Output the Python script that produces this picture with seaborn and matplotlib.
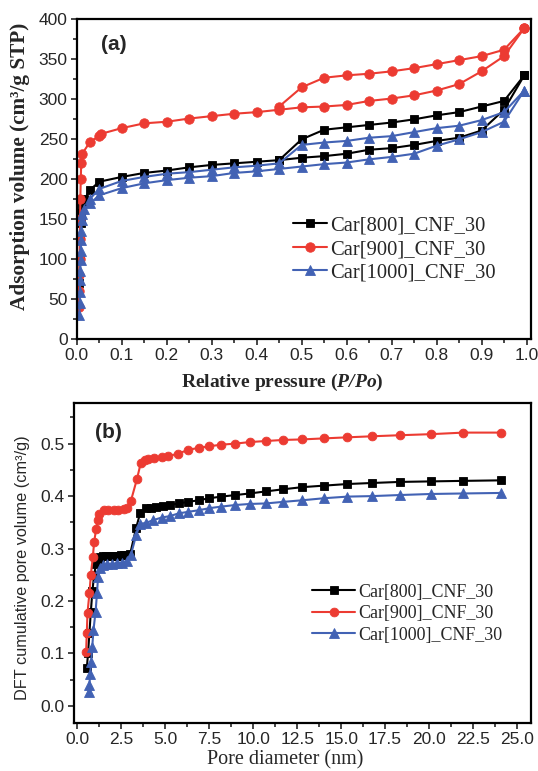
import matplotlib
matplotlib.use('Agg')
import matplotlib.pyplot as plt
from matplotlib.ticker import MultipleLocator, FormatStrFormatter
import seaborn as sns

# ---- (a) N2 isotherms: relative pressure vs adsorbed volume ----
black_ads_p = [0.006, 0.007, 0.008, 0.009, 0.010, 0.012, 0.017, 0.03, 0.05, 0.10, 0.15, 0.20, 0.25, 0.30,
               0.35, 0.40, 0.45, 0.50, 0.55, 0.60, 0.65, 0.70, 0.75, 0.80, 0.85, 0.90, 0.95, 0.995]
black_ads_v = [70, 100, 125, 145, 158, 167, 175, 187, 197, 203, 208, 211, 215, 218,
               220, 222, 224, 227, 229, 232, 237, 239, 243, 248, 252, 261, 287, 330]
black_des_p = [0.995, 0.95, 0.90, 0.85, 0.80, 0.75, 0.70, 0.65, 0.60, 0.55, 0.50, 0.45]
black_des_v = [330, 298, 291, 284, 280, 275, 271, 268, 265, 262, 250, 224]

red_ads_p = [0.005, 0.0055, 0.006, 0.0065, 0.007, 0.0075, 0.008, 0.009, 0.010, 0.012, 0.03, 0.05, 0.055,
             0.10, 0.15, 0.20, 0.25, 0.30, 0.35, 0.40, 0.45, 0.50, 0.55, 0.60, 0.65, 0.70, 0.75, 0.80,
             0.85, 0.90, 0.95, 0.995]
red_ads_v = [40, 60, 80, 100, 125, 150, 175, 200, 220, 232, 247, 254, 257,
             264, 270, 272, 276, 279, 282, 284, 287, 290, 291, 293, 298, 301, 305, 311,
             319, 335, 354, 389]
red_des_p = [0.995, 0.95, 0.90, 0.85, 0.80, 0.75, 0.70, 0.65, 0.60, 0.55, 0.50, 0.45]
red_des_v = [389, 362, 354, 349, 344, 339, 335, 332, 330, 327, 315, 291]

blue_ads_p = [0.0060, 0.0065, 0.0070, 0.0075, 0.0080, 0.0085, 0.0090, 0.0095, 0.010, 0.011, 0.012,
              0.017, 0.03, 0.05, 0.10, 0.15, 0.20, 0.25, 0.30, 0.35, 0.40, 0.45, 0.50, 0.55, 0.60,
              0.65, 0.70, 0.75, 0.80, 0.85, 0.90, 0.95, 0.995]
blue_ads_v = [30, 45, 59, 74, 86, 99, 111, 124, 136, 149, 157,
              163, 170, 180, 189, 195, 199, 202, 204, 208, 210, 213, 216, 219, 221,
              225, 228, 232, 242, 250, 259, 272, 311]
blue_des_p = [0.995, 0.95, 0.90, 0.85, 0.80, 0.75, 0.70, 0.65, 0.60, 0.55, 0.50, 0.45, 0.40, 0.35,
              0.30, 0.25, 0.20, 0.15, 0.10, 0.05, 0.03]
blue_des_v = [311, 284, 274, 267, 264, 259, 254, 252, 248, 246, 243, 220, 217, 215,
              212, 209, 207, 203, 198, 188, 176]

# ---- (b) DFT cumulative pore volume ----
black_d = [0.53, 0.60, 0.68, 0.76, 0.85, 0.95, 1.05, 1.15, 1.30, 1.45, 1.60, 1.75, 1.90, 2.05, 2.20,
           2.35, 2.50, 2.65, 2.80, 3.00, 3.34, 3.57, 3.90, 4.19, 4.48, 4.87, 5.27, 5.75, 6.30, 6.89,
           7.51, 8.19, 8.98, 9.81, 10.73, 11.71, 12.78, 14.05, 15.36, 16.78, 18.34, 20.10, 21.96, 24.10]
black_pv = [0.072, 0.100, 0.140, 0.180, 0.220, 0.250, 0.270, 0.280, 0.284, 0.285, 0.285, 0.285, 0.286,
            0.286, 0.286, 0.286, 0.287, 0.287, 0.288, 0.290, 0.340, 0.368, 0.377, 0.378, 0.380, 0.381,
            0.383, 0.386, 0.389, 0.392, 0.396, 0.399, 0.402, 0.405, 0.409, 0.413, 0.417, 0.420, 0.423,
            0.425, 0.427, 0.428, 0.429, 0.430]
red_d = [0.49, 0.53, 0.57, 0.68, 0.76, 0.87, 0.95, 1.06, 1.14, 1.25, 1.48, 1.76, 2.05, 2.33, 2.62,
         2.81, 3.04, 3.38, 3.60, 3.85, 4.00, 4.35, 4.78, 5.17, 5.72, 6.30, 6.89, 7.51, 8.19, 8.98,
         9.81, 10.73, 11.71, 12.78, 14.05, 15.36, 16.78, 18.34, 20.10, 21.96, 24.10]
red_pv = [0.103, 0.140, 0.178, 0.215, 0.250, 0.283, 0.313, 0.337, 0.354, 0.366, 0.373, 0.374, 0.374,
          0.374, 0.375, 0.377, 0.391, 0.432, 0.463, 0.468, 0.471, 0.472, 0.474, 0.476, 0.481, 0.488,
          0.492, 0.495, 0.498, 0.500, 0.503, 0.505, 0.507, 0.508, 0.510, 0.512, 0.514, 0.516, 0.518,
          0.521, 0.521]
blue_d = [0.63, 0.68, 0.72, 0.78, 0.84, 0.91, 1.03, 1.11, 1.17, 1.29, 1.44, 1.67, 1.96, 2.24, 2.53,
          2.81, 3.04, 3.34, 3.57, 3.90, 4.29, 4.78, 5.27, 5.75, 6.30, 6.89, 7.51, 8.19, 8.98, 9.81,
          10.73, 11.71, 12.78, 14.05, 15.36, 16.78, 18.34, 20.10, 21.96, 24.10]
blue_pv = [0.026, 0.040, 0.061, 0.084, 0.113, 0.145, 0.180, 0.215, 0.246, 0.262, 0.269, 0.270, 0.270,
           0.272, 0.273, 0.277, 0.288, 0.326, 0.347, 0.349, 0.354, 0.359, 0.362, 0.367, 0.370, 0.373,
           0.377, 0.380, 0.383, 0.385, 0.386, 0.389, 0.392, 0.396, 0.399, 0.400, 0.402, 0.404, 0.405,
           0.406]

labels = ['Car[800]_CNF_30', 'Car[900]_CNF_30', 'Car[1000]_CNF_30']
colors = ['#000000', '#EC3B32', '#4262B4']

sns.set_style('ticks')
plt.rcParams['font.family'] = ['Liberation Sans', 'DejaVu Sans']
plt.rcParams['mathtext.fontset'] = 'custom'
plt.rcParams['mathtext.bfit'] = 'Liberation Serif:bold:italic'
plt.rcParams['mathtext.rm'] = 'Liberation Serif:bold'

SERIF = ['Liberation Serif', 'DejaVu Serif']

fig = plt.figure(figsize=(5.38, 7.71), dpi=100)
ax1 = fig.add_axes([0.1426, 0.5599, 0.8444, 0.4150])
ax2 = fig.add_axes([0.1375, 0.0619, 0.8494, 0.4158])


def draw(ax, x, y, c, m, ms, lab=None):
    sns.lineplot(x=x, y=y, ax=ax, color=c, marker=m, markersize=ms, markeredgecolor=c,
                 markeredgewidth=0.6, linewidth=1.5, sort=False, estimator=None,
                 label=lab if lab else '_nolegend_')


# panel (a)
draw(ax1, black_ads_p, black_ads_v, colors[0], 's', 5.5, labels[0])
draw(ax1, black_des_p, black_des_v, colors[0], 's', 5.5)
draw(ax1, red_ads_p, red_ads_v, colors[1], 'o', 6.8, labels[1])
draw(ax1, red_des_p, red_des_v, colors[1], 'o', 6.8)
draw(ax1, blue_ads_p, blue_ads_v, colors[2], '^', 7.0, labels[2])
draw(ax1, blue_des_p, blue_des_v, colors[2], '^', 7.0)

# panel (b)
draw(ax2, black_d, black_pv, colors[0], 's', 5.2, labels[0])
draw(ax2, red_d, red_pv, colors[1], 'o', 6.3, labels[1])
draw(ax2, blue_d, blue_pv, colors[2], '^', 6.5, labels[2])

ax1.set_xlim(0, 1.01)
ax1.set_ylim(0, 400)
ax1.xaxis.set_major_locator(MultipleLocator(0.1))
ax1.xaxis.set_minor_locator(MultipleLocator(0.05))
ax1.xaxis.set_major_formatter(FormatStrFormatter('%.1f'))
ax1.yaxis.set_major_locator(MultipleLocator(50))
ax1.yaxis.set_minor_locator(MultipleLocator(25))

ax2.set_xlim(-0.2, 25.8)
ax2.set_ylim(-0.033, 0.578)
ax2.xaxis.set_major_locator(MultipleLocator(2.5))
ax2.xaxis.set_minor_locator(MultipleLocator(1.25))
ax2.xaxis.set_major_formatter(FormatStrFormatter('%.1f'))
ax2.yaxis.set_major_locator(MultipleLocator(0.1))
ax2.yaxis.set_minor_locator(MultipleLocator(0.05))
ax2.yaxis.set_major_formatter(FormatStrFormatter('%.1f'))

for ax in (ax1, ax2):
    for s in ax.spines.values():
        s.set_linewidth(1.6)
        s.set_color('black')
    ax.tick_params(which='major', direction='out', length=4.5, width=1.2, labelsize=12.5,
                   top=False, right=False, pad=2)
    ax.tick_params(which='minor', direction='out', length=3, width=1.2, top=False, right=False)

ax1.set_xlabel(r'Relative pressure ($\mathbfit{P/Po}$)', fontsize=14, fontweight='bold', family=SERIF)
ax1.set_ylabel('Adsorption volume (cm³/g STP)', fontsize=15.3, fontweight='bold', family=SERIF)
ax1.xaxis.set_label_coords(0.452, -0.102)
ax1.yaxis.set_label_coords(-0.103, 0.542)

ax2.set_xlabel('Pore diameter (nm)', fontsize=14.5, family=SERIF)
ax2.set_ylabel('DFT cumulative pore volume (cm³/g)', fontsize=11.7)
ax2.xaxis.set_label_coords(0.463, -0.083)
ax2.yaxis.set_label_coords(-0.096, 0.484)

ax1.text(0.053, 0.92, '(a)', transform=ax1.transAxes, fontsize=15, fontweight='bold', va='center')
ax2.text(0.046, 0.906, '(b)', transform=ax2.transAxes, fontsize=15, fontweight='bold', va='center')

ax1.legend(loc='center left', bbox_to_anchor=(0.476, 0.281), frameon=False, borderpad=0,
           borderaxespad=0, handlelength=1.66, handletextpad=0.15, labelspacing=0.2,
           prop={'family': SERIF, 'size': 14.8})
ax2.legend(loc='center left', bbox_to_anchor=(0.521, 0.342), frameon=False, borderpad=0,
           borderaxespad=0, handlelength=2.4, handletextpad=0.2, labelspacing=0.25,
           prop={'family': SERIF, 'size': 12.9})

fig.savefig('out.png', dpi=100)
